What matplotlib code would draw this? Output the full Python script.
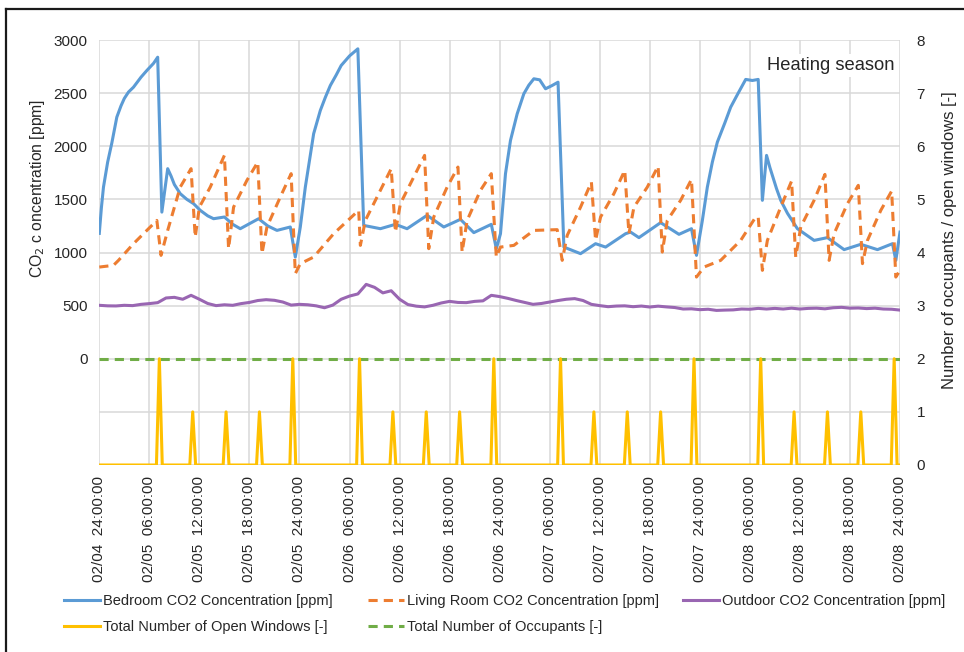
import matplotlib.pyplot as plt
from matplotlib.lines import Line2D

plt.rcParams['font.family'] = ['Liberation Sans', 'DejaVu Sans']

# hours since 02/04 24:00
bed_t = [0, 0.25, 0.5, 1.0, 1.5, 2.1, 2.6, 3.0, 3.5, 4.1, 5.0, 5.7, 6.5, 7.0, 7.5, 8.2, 8.6, 9.0, 9.7,
         10.5, 11.3, 12.1, 13.0, 13.7, 15.0, 16.0, 16.9, 19.1, 20.2, 21.3, 22.9, 23.5,
         24.1, 24.7, 25.2, 25.7, 26.5, 27.1, 27.7, 28.4, 29.0, 30.0, 31.0, 31.7,
         33.7, 35.5, 36.9, 39.3, 41.3, 43.3, 44.9, 47.0, 47.6,
         48.1, 48.7, 49.3, 50.1, 50.9, 51.5, 52.1, 52.8, 53.5, 54.3, 55.0, 55.7,
         57.7, 59.5, 60.7, 63.1, 63.7, 64.7, 67.3, 69.5, 71.0, 71.6,
         72.3, 72.9, 73.5, 74.1, 75.0, 75.7, 76.6, 77.5, 78.3, 79.0, 79.5,
         80.0, 80.4, 80.8, 81.2, 81.7, 82.5, 83.7, 85.7, 87.3, 89.3, 91.3, 93.3, 95.1, 95.5, 96.0]
bed_ppm = [1180, 1420, 1615, 1850, 2030, 2274, 2380, 2450, 2510, 2556, 2650, 2713, 2780, 2838, 1380,
           1789, 1720, 1640, 1554,
           1500, 1460, 1397, 1345, 1318, 1334, 1265, 1224, 1318, 1250, 1208, 1240, 957,
           1240, 1615, 1866, 2118, 2337, 2460, 2572, 2670, 2760, 2850, 2917, 1255,
           1224, 1265, 1224, 1350, 1240, 1312, 1187, 1265, 1036,
           1177, 1742, 2055, 2305, 2494, 2575, 2635, 2625, 2541, 2572, 2603, 1051,
           989, 1083, 1051, 1177, 1192, 1140, 1281, 1171, 1224, 973,
           1300, 1615, 1850, 2039, 2220, 2368, 2500, 2629, 2619, 2629, 1491,
           1914, 1800, 1700, 1600, 1491, 1370, 1224, 1114, 1140, 1027, 1077, 1027, 1083, 926, 1192]

liv_t = [0, 1.7, 2.3, 4.1, 5.7, 6.9, 7.4, 8.2, 9.7, 11.0, 11.5, 12.0, 13.3, 15.0, 15.5,
         16.1, 17.7, 19.0, 19.5, 20.1, 21.7, 23.0, 23.5, 24.1, 25.7, 28.1, 31.1, 31.3,
         31.9, 33.7, 35.0, 35.5, 36.1, 37.7, 39.0, 39.5, 40.1, 41.7, 43.0, 43.5,
         44.1, 45.7, 47.0, 47.6, 48.1, 49.7, 52.1, 54.9, 55.5, 56.1, 57.7, 59.0,
         59.5, 60.1, 61.7, 63.0, 63.5, 64.1, 65.7, 67.0, 67.5, 68.1, 69.7, 71.0,
         71.6, 72.5, 74.5, 76.9, 78.7, 79.0, 79.5, 80.1, 81.7, 83.0, 83.5, 84.1,
         85.7, 87.0, 87.5, 88.1, 89.7, 91.0, 91.5, 92.1, 93.7, 95.0, 95.5, 96.0]
liv_ppm = [863, 879, 926, 1083, 1208, 1302, 973, 1208, 1615, 1789, 1145, 1427, 1615, 1914, 1036,
           1427, 1679, 1851, 989, 1240, 1522, 1742, 801, 895, 957, 1177, 1397, 1067,
           1302, 1585, 1789, 1192, 1460, 1710, 1914, 1036, 1334, 1615, 1804, 1004,
           1302, 1585, 1742, 957, 1051, 1067, 1208, 1215, 926, 1161, 1427, 1663,
           1114, 1334, 1554, 1773, 1177, 1427, 1615, 1813, 1004, 1302, 1491, 1688,
           769, 863, 926, 1114, 1334, 1334, 832, 1114, 1427, 1672, 957, 1240,
           1491, 1735, 926, 1177, 1460, 1632, 895, 1114, 1397, 1578, 769, 832]

# outdoor, hourly readings
out_t = list(range(97))
out_ppm = [503, 498, 497, 503, 500, 512, 519, 528, 572, 578, 560, 597, 560, 520, 500, 508,
           503, 519, 530, 548, 556, 550, 534, 505, 512, 508, 498, 480, 505, 560, 590, 610,
           700, 672, 620, 640, 560, 510, 495, 488, 503, 525, 540, 530, 528, 540, 545, 597,
           585, 568, 548, 530, 512, 520, 534, 548, 560, 566, 548, 512, 500, 490, 496, 498,
           490, 496, 487, 495, 488, 482, 468, 470, 462, 466, 455, 458, 460, 468, 466, 474,
           468, 474, 468, 476, 468, 474, 476, 470, 480, 484, 476, 478, 472, 476, 468, 466, 458]

# window openings: time of each opening and number of windows open
win_t = [7.2, 11.2, 15.2, 19.2, 23.2, 31.2, 35.2, 39.2, 43.2, 47.3, 55.3, 59.3, 63.3,
         67.3, 71.3, 79.3, 83.3, 87.3, 91.3, 95.3]
win_n = [2, 1, 1, 1, 2, 2, 1, 1, 1, 2, 2, 1, 1, 1, 2, 2, 1, 1, 1, 2]

occ_t = [0, 96]
occ_n = [2, 2]

xtick_labels = ['02/04  24:00:00', '02/05  06:00:00', '02/05  12:00:00', '02/05  18:00:00',
                '02/05  24:00:00', '02/06  06:00:00', '02/06  12:00:00', '02/06  18:00:00',
                '02/06  24:00:00', '02/07  06:00:00', '02/07  12:00:00', '02/07  18:00:00',
                '02/07  24:00:00', '02/08  06:00:00', '02/08  12:00:00', '02/08  18:00:00',
                '02/08  24:00:00']

# build the window trace as narrow spikes
wt, wn = [0], [0]
for t, n in zip(win_t, win_n):
    wt += [t - 0.35, t, t + 0.35]
    wn += [0, n, 0]
wt.append(96)
wn.append(0)

txt = '#262626'
lw = 2.2
fig = plt.figure(figsize=(9.64, 6.52), dpi=100)
ax = fig.add_axes([99.3 / 964, 1 - 465 / 652, 800.7 / 964, 425 / 652])
ax2 = ax.twinx()

l_bed, = ax.plot(bed_t, bed_ppm, color='#5B9BD5', lw=lw, label='Bedroom CO2 Concentration [ppm]')
l_liv, = ax.plot(liv_t, liv_ppm, color='#ED7D31', lw=lw, dashes=(3.0, 2.0),
                 label='Living Room CO2 Concentration [ppm]')
l_out, = ax.plot(out_t, out_ppm, color='#9966B2', lw=lw, label='Outdoor CO2 Concentration [ppm]')
l_occ, = ax2.plot(occ_t, occ_n, color='#70AD47', lw=lw, dashes=(3.0, 2.0),
                  label='Total Number of Occupants [-]')
l_win, = ax2.plot(wt, wn, color='#FFC000', lw=lw, label='Total Number of Open Windows [-]')

ax.set_xlim(0, 96)
ax.set_ylim(-1000, 3000)
ax2.set_ylim(0, 8)
ax.set_xticks(range(0, 97, 6))
ax.set_xticklabels(xtick_labels, rotation=90, fontsize=11, color=txt)
ax.set_yticks(range(-1000, 3001, 500))
ax.set_yticklabels(['' if v < 0 else str(v) for v in range(-1000, 3001, 500)], fontsize=11, color=txt)
ax2.set_yticks(range(9))
ax2.set_yticklabels([str(v) for v in range(9)], fontsize=11, color=txt)
ax.tick_params(axis='y', length=0, pad=8.5)
ax.tick_params(axis='x', length=0, pad=8)
ax2.tick_params(axis='y', length=0, pad=12)
ax.grid(True, color='#D9D9D9', lw=1.1)
ax.set_axisbelow(True)
for a in (ax, ax2):
    for s in a.spines.values():
        s.set_visible(False)

ax.set_ylabel('CO$_2$ c oncentration [ppm]', fontsize=11.3, color=txt)
ax.yaxis.set_label_coords(-52 / 800.7, 0.65)
ax2.set_ylabel('Number of occupants / open windows [-]', fontsize=12, color=txt)
ax2.yaxis.set_label_coords(1 + 42 / 800.7, 0.53)

ax2.text(0.993, 0.94, 'Heating season', transform=ax2.transAxes, ha='right', va='center',
         fontsize=13.2, color=txt, bbox=dict(facecolor='white', edgecolor='none', pad=2))

# legend split into three columns
cols = [([l_bed, l_win], 64), ([l_liv, l_occ], 368), ([l_out], 683)]
for hs, x0 in cols:
    fig.legend(handles=hs, loc='upper left', bbox_to_anchor=(x0 / 964, 1 - 594 / 652),
               frameon=False, fontsize=10.5, handlelength=2.5, handletextpad=0.2,
               borderpad=0, borderaxespad=0, labelspacing=0.85, labelcolor=txt)

# outer frame
fig.add_artist(Line2D([6 / 964, 6 / 964], [0, 1 - 9 / 652], transform=fig.transFigure,
                      color='#1a1a1a', lw=1.6))
fig.add_artist(Line2D([6 / 964, 1], [1 - 9 / 652, 1 - 9 / 652], transform=fig.transFigure,
                      color='#1a1a1a', lw=1.6))

fig.savefig('out.png', dpi=100)
